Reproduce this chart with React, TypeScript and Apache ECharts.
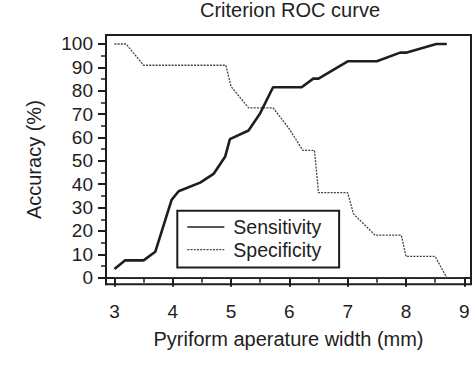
import React, { useEffect, useRef } from "react";
import * as echarts from "echarts";

const sensitivity: [number, number][] = [
  [3.0, 3.7], [3.18, 7.4], [3.5, 7.4], [3.7, 11.1], [3.98, 33.3], [4.1, 37.0],
  [4.47, 40.7], [4.7, 44.4], [4.9, 51.9], [4.98, 59.3], [5.3, 63.0], [5.5, 70.4],
  [5.72, 81.5], [6.21, 81.5], [6.41, 85.2], [6.5, 85.2], [7.0, 92.6], [7.5, 92.6],
  [7.9, 96.3], [8.0, 96.3], [8.52, 100], [8.7, 100],
];
const specificity: [number, number][] = [
  [3.0, 100], [3.2, 100], [3.5, 90.9], [4.91, 90.9], [5.0, 81.8], [5.3, 72.7],
  [5.72, 72.7], [6.0, 63.6], [6.23, 54.5], [6.43, 54.5], [6.5, 36.4], [7.0, 36.4],
  [7.1, 27.3], [7.47, 18.2], [7.92, 18.2], [8.0, 9.1], [8.5, 9.1], [8.7, 0],
];
const baseline: [number, number][] = [[3, 0], [9, 0]];
const xMajor = [3, 4, 5, 6, 7, 8, 9];
const xMinor = [3.5, 4.5, 5.5, 6.5, 7.5, 8.5];
const yMajor = [0, 10, 20, 30, 40, 50, 60, 70, 80, 90, 100];
const yMinor = [5, 15, 25, 35, 45, 55, 65, 75, 85, 95];

const FONT = "'Liberation Sans', Arial, sans-serif";
const INK = "#1e1e1e";
const X_MIN = 2.855, X_MAX = 9.115, Y_MIN = -2.82, Y_MAX = 103.85;

export default function App() {
  const ref = useRef<HTMLDivElement>(null);
  useEffect(() => {
    if (!ref.current) return;
    const chart = echarts.init(ref.current, null, { renderer: "svg" });
    const axLine = { show: true, lineStyle: { color: INK, width: 2 } };
    const hiddenSymbol = { opacity: 0, color: "transparent", borderWidth: 0 };
    chart.setOption({
      animation: false,
      backgroundColor: "#fff",
      textStyle: { fontFamily: FONT },
      title: {
        text: "Criterion ROC curve",
        left: 290,
        top: 0,
        textAlign: "center",
        padding: 0,
        textStyle: { fontSize: 20, fontWeight: "normal", color: INK, fontFamily: FONT },
      },
      grid: {
        left: 106, right: 3, top: 35, bottom: 93.7,
        show: true, borderColor: INK, borderWidth: 2, backgroundColor: "transparent",
      },
      legend: {
        orient: "vertical",
        left: 177.3,
        top: 210.7,
        padding: [6.3, 18, 7.7, 9.4],
        itemGap: 2.7,
        itemWidth: 37,
        itemHeight: 14,
        borderColor: INK,
        borderWidth: 2,
        itemStyle: hiddenSymbol,
        textStyle: { fontSize: 19.5, color: INK, fontFamily: FONT, lineHeight: 20, padding: [0, 0, 0, 4] },
        data: [
          { name: "Sensitivity", itemStyle: hiddenSymbol, lineStyle: { width: 1.3, color: INK, type: "solid" } },
          { name: "Specificity", itemStyle: hiddenSymbol, lineStyle: { width: 1.3, color: "#444", type: [2, 1.2] } },
        ],
      },
      xAxis: [
        {
          type: "value", min: X_MIN, max: X_MAX, position: "bottom",
          name: "Pyriform aperature width (mm)", nameLocation: "middle", nameGap: 45,
          nameTextStyle: { fontSize: 20, color: INK, fontFamily: FONT },
          axisLine: axLine,
          axisTick: { show: true, inside: false, length: 9, customValues: xMajor, lineStyle: { color: INK, width: 2 } },
          axisLabel: { show: true, customValues: xMajor, margin: 18, fontSize: 19, color: INK, fontFamily: FONT },
          splitLine: { show: false },
        },
        {
          type: "value", min: X_MIN, max: X_MAX, position: "bottom",
          axisLine: { show: false },
          axisTick: { show: true, inside: false, length: 5, customValues: xMinor, lineStyle: { color: INK, width: 1.5 } },
          axisLabel: { show: false },
          splitLine: { show: false },
        },
      ],
      yAxis: [
        {
          type: "value", min: Y_MIN, max: Y_MAX, position: "left",
          name: "Accuracy (%)", nameLocation: "middle", nameGap: 62, nameRotate: 90,
          nameTextStyle: { fontSize: 20, color: INK, fontFamily: FONT },
          axisLine: axLine,
          axisTick: { show: true, inside: false, length: 8, customValues: yMajor, lineStyle: { color: INK, width: 2 } },
          axisLabel: { show: true, customValues: yMajor, margin: 13, fontSize: 19, color: INK, fontFamily: FONT },
          splitLine: { show: false },
        },
        {
          type: "value", min: Y_MIN, max: Y_MAX, position: "left",
          axisLine: { show: false },
          axisTick: { show: true, inside: false, length: 5, customValues: yMinor, lineStyle: { color: INK, width: 1.5 } },
          axisLabel: { show: false },
          splitLine: { show: false },
        },
      ],
      series: [
        {
          name: "Sensitivity", type: "line", data: sensitivity, symbol: "none",
          lineStyle: { color: INK, width: 2.6 }, itemStyle: { color: INK },
          xAxisIndex: 0, yAxisIndex: 0, z: 3,
        },
        {
          name: "Specificity", type: "line", data: specificity, symbol: "none",
          lineStyle: { color: "#444", width: 1.3, type: [2, 1.2] }, itemStyle: { color: "#444" },
          xAxisIndex: 0, yAxisIndex: 0, z: 2,
        },
        {
          name: "baseline", type: "line", data: baseline, symbol: "none",
          lineStyle: { color: "#444", width: 1.3, type: [2, 1.2] },
          xAxisIndex: 0, yAxisIndex: 0, z: 2, silent: true,
        },
      ],
    });
    return () => chart.dispose();
  }, []);
  return (
    <div
      ref={ref}
      style={{ position: "fixed", left: 0, top: 0, width: 474, height: 378, background: "#fff" }}
    />
  );
}
